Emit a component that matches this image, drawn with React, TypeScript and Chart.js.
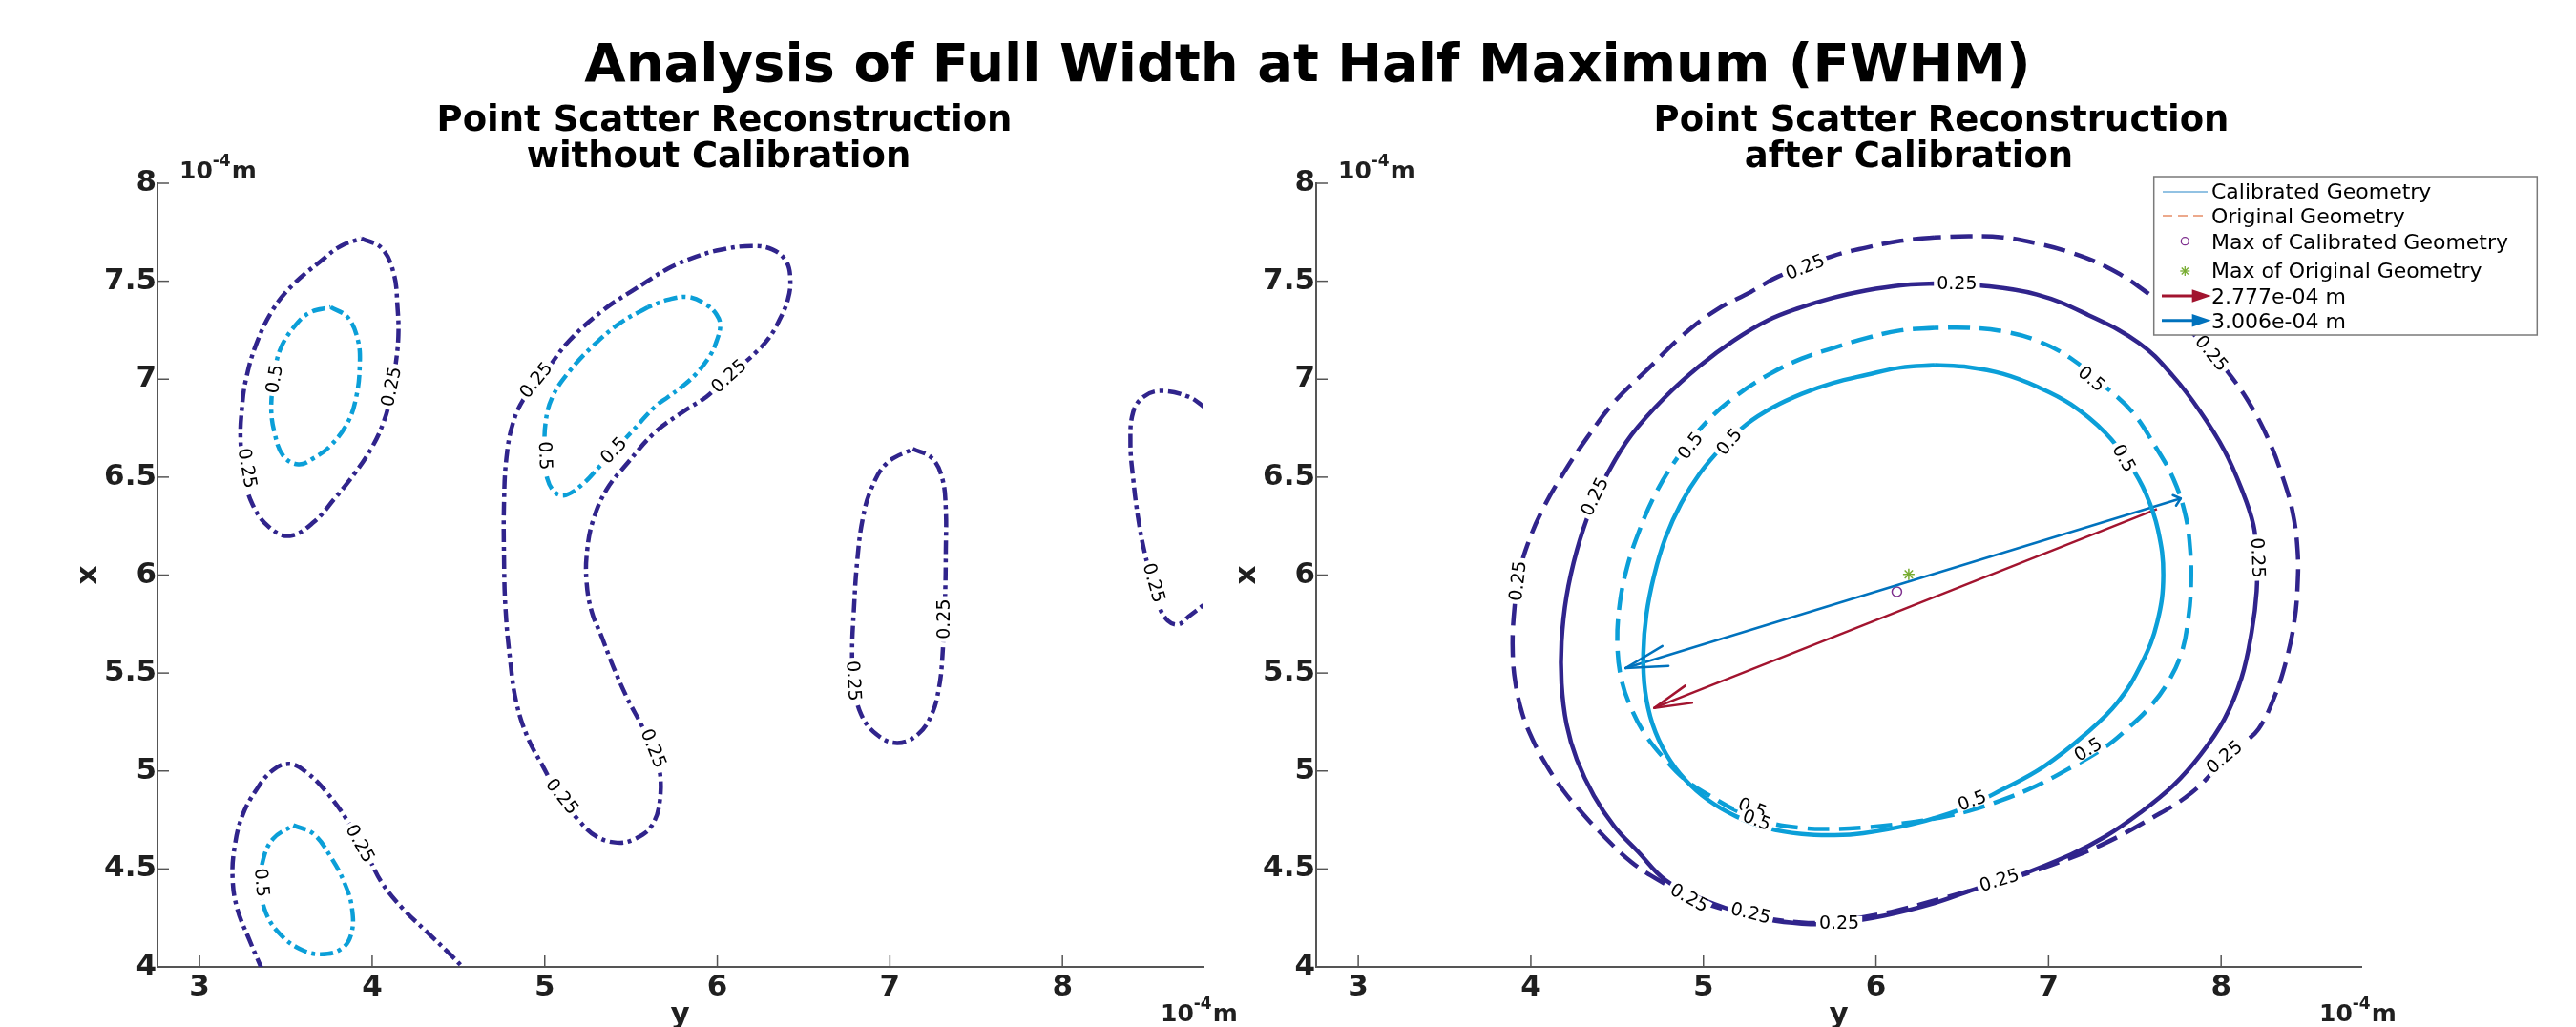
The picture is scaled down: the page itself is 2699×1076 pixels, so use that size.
import React, { useEffect, useRef } from 'react';
import { Chart, registerables } from 'chart.js';

Chart.register(...registerables);

type Pt = [number, number];
type Lbl = [string, number, number, number];

// ---------- axes ----------
const X_MIN = 2.756;
const X_MAX = 8.812;
const Y_MIN = 4;
const Y_MAX = 8;
const X_TICKS = [3, 4, 5, 6, 7, 8];
const X_TICK_LABELS = ['3', '4', '5', '6', '7', '8'];
const Y_TICKS = [4, 4.5, 5, 5.5, 6, 6.5, 7, 7.5, 8];
const Y_TICK_LABELS = ['4', '4.5', '5', '5.5', '6', '6.5', '7', '7.5', '8'];

// ---------- texts ----------
const MAIN_TITLE = 'Analysis of Full Width at Half Maximum (FWHM)';
const LEFT_SUBTITLE = ['Point Scatter Reconstruction', 'without Calibration'];
const RIGHT_SUBTITLE = ['Point Scatter Reconstruction', 'after Calibration'];
const X_AXIS_TITLE = 'y';
const Y_AXIS_TITLE = 'x';
const LEGEND_LABELS = [
  'Calibrated Geometry',
  'Original Geometry',
  'Max of Calibrated Geometry',
  'Max of Original Geometry',
  '2.777e-04 m',
  '3.006e-04 m',
];

// ---------- left panel: without calibration (contour levels 0.25 / 0.5) ----------
const noCalA025: Pt[] = [[3.938,7.719],[4.057,7.667],[4.126,7.536],[4.146,7.380],[4.152,7.223],[4.135,7.067],[4.106,6.910],[4.066,6.780],[3.997,6.649],[3.898,6.518],[3.780,6.388],[3.661,6.270],[3.523,6.200],[3.404,6.244],[3.306,6.362],[3.256,6.518],[3.237,6.701],[3.246,6.858],[3.266,6.988],[3.325,7.171],[3.424,7.354],[3.543,7.484],[3.701,7.602],[3.819,7.680],[3.938,7.719]];
const noCalA05: Pt[] = [[3.760,7.367],[3.859,7.315],[3.918,7.197],[3.928,7.067],[3.908,6.910],[3.859,6.780],[3.760,6.662],[3.661,6.597],[3.572,6.565],[3.484,6.610],[3.434,6.727],[3.415,6.858],[3.434,7.014],[3.464,7.145],[3.543,7.262],[3.641,7.341],[3.760,7.367]];
const noCalB025: Pt[] = [[3.365,3.98],[3.286,4.143],[3.217,4.300],[3.191,4.456],[3.203,4.613],[3.247,4.770],[3.326,4.900],[3.424,5.004],[3.523,5.036],[3.622,4.991],[3.740,4.887],[3.859,4.743],[3.977,4.561],[4.056,4.430],[4.175,4.300],[4.313,4.182],[4.451,4.065],[4.545,3.98]];
const noCalB05: Pt[] = [[3.543,4.723],[3.661,4.678],[3.760,4.561],[3.839,4.430],[3.883,4.300],[3.879,4.169],[3.820,4.091],[3.701,4.065],[3.582,4.091],[3.464,4.169],[3.385,4.274],[3.355,4.404],[3.365,4.535],[3.424,4.652],[3.543,4.723]];
const noCalC025: Pt[] = [[5.538,7.468],[5.341,7.354],[5.143,7.197],[5.005,7.040],[4.886,6.910],[4.817,6.779],[4.778,6.597],[4.764,6.362],[4.764,6.101],[4.772,5.840],[4.798,5.579],[4.837,5.344],[4.906,5.161],[4.985,5.031],[5.084,4.874],[5.202,4.743],[5.301,4.665],[5.420,4.634],[5.519,4.652],[5.617,4.717],[5.667,4.848],[5.661,5.031],[5.617,5.135],[5.558,5.239],[5.479,5.370],[5.400,5.526],[5.331,5.683],[5.272,5.814],[5.242,5.970],[5.246,6.127],[5.282,6.284],[5.361,6.440],[5.479,6.571],[5.637,6.727],[5.816,6.842],[5.937,6.910],[6.017,6.975],[6.118,7.054],[6.218,7.132],[6.299,7.210],[6.359,7.301],[6.409,7.406],[6.423,7.510],[6.399,7.602],[6.319,7.662],[6.198,7.680],[6.017,7.660],[5.877,7.625],[5.716,7.565],[5.538,7.468]];
const noCalC05: Pt[] = [[5.597,7.367],[5.439,7.288],[5.281,7.171],[5.143,7.040],[5.045,6.910],[5.005,6.779],[5.001,6.623],[5.015,6.492],[5.064,6.419],[5.124,6.409],[5.222,6.466],[5.321,6.558],[5.499,6.727],[5.637,6.858],[5.716,6.910],[5.796,6.962],[5.877,7.027],[5.957,7.119],[5.997,7.197],[6.017,7.275],[5.997,7.328],[5.937,7.380],[5.836,7.419],[5.716,7.406],[5.597,7.367]];
const noCalD025: Pt[] = [[7.133,6.644],[7.244,6.597],[7.304,6.492],[7.324,6.336],[7.324,6.127],[7.320,5.892],[7.304,5.579],[7.284,5.422],[7.244,5.292],[7.163,5.187],[7.043,5.143],[6.922,5.187],[6.832,5.292],[6.791,5.448],[6.781,5.605],[6.791,5.814],[6.811,6.075],[6.842,6.284],[6.892,6.440],[6.982,6.571],[7.133,6.644]];
const noCalE025: Pt[] = [[8.822,6.858],[8.731,6.910],[8.571,6.940],[8.470,6.910],[8.410,6.832],[8.394,6.675],[8.410,6.492],[8.440,6.284],[8.480,6.101],[8.530,5.944],[8.560,5.840],[8.611,5.767],[8.671,5.748],[8.731,5.788],[8.822,5.850]];
const noCalLabels: Lbl[] = [
  ['0.25', 4.112, 6.962, -78], ['0.25', 3.276, 6.545, 80], ['0.5', 3.434, 7.001, -81],
  ['0.25', 4.950, 6.995, -51], ['0.5', 5.003, 6.610, 88], ['0.5', 5.400, 6.636, -47],
  ['0.25', 5.630, 5.115, 68], ['0.25', 5.100, 4.870, 51], ['0.25', 3.930, 4.630, 61],
  ['0.5', 3.360, 4.430, 85], ['0.25', 6.068, 7.015, -42], ['0.25', 7.313, 5.775, -90],
  ['0.25', 6.790, 5.460, 87], ['0.25', 8.530, 5.960, 74],
];

// ---------- right panel: after calibration ----------
const calibrated025: Pt[] = [[6.340,7.489],[6.143,7.479],[5.945,7.453],[5.748,7.415],[5.560,7.365],[5.372,7.300],[5.175,7.197],[4.977,7.067],[4.780,6.910],[4.582,6.714],[4.444,6.518],[4.346,6.336],[4.267,6.127],[4.207,5.892],[4.178,5.658],[4.178,5.448],[4.207,5.239],[4.267,5.057],[4.365,4.874],[4.484,4.717],[4.622,4.587],[4.780,4.443],[4.977,4.352],[5.175,4.287],[5.372,4.242],[5.570,4.221],[5.748,4.221],[6.044,4.261],[6.340,4.326],[6.597,4.404],[6.814,4.462],[7.130,4.574],[7.328,4.665],[7.525,4.783],[7.723,4.926],[7.881,5.083],[8.019,5.265],[8.118,5.475],[8.177,5.710],[8.206,5.918],[8.206,6.101],[8.187,6.257],[8.118,6.440],[8.019,6.636],[7.881,6.832],[7.723,7.014],[7.525,7.184],[7.229,7.328],[6.933,7.432],[6.597,7.479],[6.340,7.489]];
const original025: Pt[] = [[6.340,7.724],[6.143,7.706],[5.945,7.672],[5.748,7.628],[5.432,7.523],[5.274,7.445],[5.076,7.354],[4.879,7.223],[4.681,7.054],[4.484,6.884],[4.326,6.701],[4.188,6.518],[4.069,6.336],[3.980,6.153],[3.931,5.997],[3.901,5.788],[3.895,5.606],[3.911,5.448],[3.951,5.292],[4.010,5.161],[4.089,5.031],[4.188,4.900],[4.287,4.796],[4.425,4.665],[4.583,4.535],[4.740,4.443],[4.977,4.336],[5.274,4.262],[5.570,4.227],[5.748,4.230],[5.926,4.254],[6.116,4.287],[6.401,4.354],[6.735,4.438],[7.020,4.521],[7.305,4.622],[7.591,4.756],[7.829,4.889],[8.019,5.056],[8.120,5.135],[8.216,5.213],[8.305,5.370],[8.374,5.553],[8.424,5.761],[8.443,5.944],[8.443,6.127],[8.414,6.323],[8.355,6.505],[8.276,6.688],[8.177,6.858],[8.058,7.014],[7.920,7.158],[7.723,7.328],[7.525,7.471],[7.328,7.576],[7.130,7.646],[6.933,7.693],[6.735,7.724],[6.538,7.730],[6.340,7.724]];
const calibrated05: Pt[] = [[6.340,7.072],[6.143,7.059],[5.945,7.022],[5.748,6.980],[5.570,6.925],[5.400,6.855],[5.250,6.770],[5.110,6.655],[4.980,6.520],[4.870,6.365],[4.780,6.190],[4.715,6.000],[4.670,5.800],[4.652,5.600],[4.662,5.410],[4.705,5.240],[4.785,5.085],[4.895,4.955],[5.030,4.850],[5.190,4.768],[5.372,4.708],[5.570,4.678],[5.760,4.672],[5.926,4.682],[6.211,4.729],[6.497,4.806],[6.734,4.906],[6.973,5.023],[7.210,5.185],[7.400,5.350],[7.540,5.550],[7.630,5.760],[7.665,6.000],[7.634,6.231],[7.565,6.414],[7.466,6.571],[7.328,6.727],[7.130,6.871],[6.933,6.962],[6.735,7.027],[6.538,7.061],[6.340,7.072]];
const original05: Pt[] = [[6.340,7.262],[6.143,7.249],[5.945,7.210],[5.748,7.158],[5.570,7.105],[5.372,7.020],[5.175,6.905],[5.000,6.765],[4.850,6.600],[4.725,6.420],[4.630,6.230],[4.555,6.030],[4.512,5.830],[4.502,5.632],[4.527,5.460],[4.583,5.318],[4.662,5.187],[4.780,5.057],[4.899,4.952],[5.037,4.874],[5.195,4.796],[5.372,4.738],[5.570,4.709],[5.748,4.704],[5.945,4.712],[6.143,4.731],[6.340,4.757],[6.538,4.796],[6.735,4.853],[6.933,4.926],[7.130,5.018],[7.328,5.122],[7.450,5.210],[7.580,5.320],[7.690,5.450],[7.772,5.606],[7.811,5.788],[7.825,5.944],[7.821,6.127],[7.792,6.310],[7.723,6.492],[7.624,6.649],[7.486,6.832],[7.328,6.962],[7.130,7.106],[6.933,7.197],[6.735,7.244],[6.538,7.262],[6.340,7.262]];
const calLabels: Lbl[] = [
  ['0.25', 5.590, 7.572, -22], ['0.25', 4.370, 6.400, -64], ['0.25', 3.925, 5.970, -83],
  ['0.5', 4.925, 6.660, -53], ['0.5', 5.150, 6.680, -50], ['0.5', 5.284, 4.809, 21],
  ['0.5', 5.309, 4.749, 21], ['0.25', 4.918, 4.352, 29], ['0.25', 5.274, 4.274, 14],
  ['0.25', 5.787, 4.225, 0], ['0.25', 6.469, 7.489, 0], ['0.25', 7.944, 7.132, 50],
  ['0.5', 7.249, 7.001, 40], ['0.5', 7.436, 6.597, 61], ['0.25', 8.212, 6.088, 88],
  ['0.25', 8.019, 5.070, -40], ['0.5', 7.229, 5.109, -31], ['0.5', 6.557, 4.848, -20],
  ['0.25', 6.715, 4.442, -17],
];
// FWHM arrows: [tail, tip]
const arrowOriginal: Pt[] = [[7.628, 6.337], [4.715, 5.322]];
const arrowCalibrated: Pt[] = [[7.766, 6.391], [4.549, 5.525]];
const maxCalibrated: Pt[] = [[6.121, 5.915]];
const maxOriginal: Pt[] = [[6.190, 6.004]];

// ---------- styles ----------
const FONT = '"DejaVu Sans", "Liberation Sans", sans-serif';
const PURPLE = '#30248c';
const CYAN = '#0b9fd8';
const RED = '#a2142f';
const BLUE = '#0072bd';
const AXIS = '#555555';
const TEXT = '#1f1f1f';
const CANVAS_H = 1100;
const AREA_TOP = 192;
const AREA_BOTTOM = 1013;
const AREA_LEFT = 165;
const AREA_RIGHT = 1260;
const DASH_DOT = [14, 5, 4, 5];
const DASH = [23, 10];

const toXY = (pts: Pt[]) => pts.map(([x, y]) => ({ x, y }));

function contour(pts: Pt[], color: string, dash: number[]) {
  return {
    data: toXY(pts),
    showLine: true,
    borderColor: color,
    backgroundColor: color,
    borderWidth: 4.5,
    borderDash: dash,
    borderCapStyle: 'butt',
    borderJoinStyle: 'round',
    pointRadius: 0,
    tension: 0.4,
    fill: false,
  };
}

function arrowShaft(pts: Pt[], color: string) {
  return {
    data: toXY(pts),
    showLine: true,
    borderColor: color,
    borderWidth: 2.5,
    pointRadius: 0,
    tension: 0,
    fill: false,
  };
}

function drawHead(ctx: CanvasRenderingContext2D, xs: any, ys: any, seg: Pt[], color: string, len: number, deg: number) {
  const [a, b] = seg;
  const tx = xs.getPixelForValue(b[0]);
  const ty = ys.getPixelForValue(b[1]);
  const sx = xs.getPixelForValue(a[0]);
  const sy = ys.getPixelForValue(a[1]);
  const ang = Math.atan2(sy - ty, sx - tx);
  ctx.strokeStyle = color;
  ctx.lineWidth = 2.5;
  ctx.lineCap = 'round';
  for (const s of [-1, 1]) {
    const a2 = ang + (s * deg * Math.PI) / 180;
    ctx.beginPath();
    ctx.moveTo(tx, ty);
    ctx.lineTo(tx + len * Math.cos(a2), ty + len * Math.sin(a2));
    ctx.stroke();
  }
}

function drawExp(ctx: CanvasRenderingContext2D, x: number, base: number) {
  ctx.fillStyle = TEXT;
  ctx.textAlign = 'left';
  ctx.textBaseline = 'alphabetic';
  ctx.font = `bold 25px ${FONT}`;
  ctx.fillText('10', x, base);
  const w1 = ctx.measureText('10').width;
  ctx.font = `bold 17px ${FONT}`;
  ctx.fillText('-4', x + w1, base - 13);
  const w2 = ctx.measureText('-4').width;
  ctx.font = `bold 25px ${FONT}`;
  ctx.fillText('m', x + w1 + w2 + 1, base);
}

function drawStar(ctx: CanvasRenderingContext2D, x: number, y: number, r: number, color: string) {
  ctx.strokeStyle = color;
  ctx.lineWidth = 1.3;
  for (let k = 0; k < 4; k++) {
    const a = (k * Math.PI) / 4;
    ctx.beginPath();
    ctx.moveTo(x - r * Math.cos(a), y - r * Math.sin(a));
    ctx.lineTo(x + r * Math.cos(a), y + r * Math.sin(a));
    ctx.stroke();
  }
}

function drawLegend(ctx: CanvasRenderingContext2D) {
  const L = 1042.7, T = 185, W = 401.6, H = 166;
  ctx.save();
  ctx.fillStyle = '#ffffff';
  ctx.fillRect(L, T, W, H);
  ctx.strokeStyle = '#7a7a7a';
  ctx.lineWidth = 1.5;
  ctx.strokeRect(L, T, W, H);
  const x0 = 1052, x1 = 1099, mx = 1075.3;
  ctx.strokeStyle = 'rgba(0,114,189,0.85)';
  ctx.lineWidth = 1.2;
  ctx.beginPath(); ctx.moveTo(x0, 201); ctx.lineTo(x1, 201); ctx.stroke();
  ctx.strokeStyle = 'rgba(217,83,25,0.5)';
  ctx.lineWidth = 2;
  ctx.setLineDash([10, 6]);
  ctx.beginPath(); ctx.moveTo(x0, 226); ctx.lineTo(x1, 226); ctx.stroke();
  ctx.setLineDash([]);
  ctx.strokeStyle = '#7e2f8e';
  ctx.lineWidth = 1.3;
  ctx.beginPath(); ctx.arc(mx, 252.7, 4, 0, Math.PI * 2); ctx.stroke();
  drawStar(ctx, mx, 284, 5, '#77ac30');
  const arrows: [number, string][] = [[310, RED], [335.7, BLUE]];
  for (const [y, c] of arrows) {
    ctx.strokeStyle = c;
    ctx.fillStyle = c;
    ctx.lineWidth = 3;
    ctx.beginPath(); ctx.moveTo(1051, y); ctx.lineTo(1090, y); ctx.stroke();
    ctx.beginPath();
    ctx.moveTo(1082.7, y - 6.7);
    ctx.lineTo(1102.7, y);
    ctx.lineTo(1082.7, y + 6.7);
    ctx.closePath();
    ctx.fill();
  }
  ctx.fillStyle = '#000';
  ctx.font = `22px ${FONT}`;
  ctx.textAlign = 'left';
  ctx.textBaseline = 'alphabetic';
  const bases = [207.5, 233.5, 261, 291, 317.5, 343.5];
  LEGEND_LABELS.forEach((t, i) => ctx.fillText(t, 1103, bases[i]));
  ctx.restore();
}

function decorPlugin(side: 'left' | 'right') {
  const labels = side === 'left' ? noCalLabels : calLabels;
  const sub = side === 'left' ? LEFT_SUBTITLE : RIGHT_SUBTITLE;
  const subX = side === 'left' ? [759, 753] : [820, 786];
  return {
    id: 'decor_' + side,
    afterDatasetsDraw(chart: any) {
      const ctx: CanvasRenderingContext2D = chart.ctx;
      const xs = chart.scales.x;
      const ys = chart.scales.y;
      const ca = chart.chartArea;
      ctx.save();
      ctx.strokeStyle = AXIS;
      ctx.lineWidth = 1.5;
      for (const v of X_TICKS) {
        const p = xs.getPixelForValue(v);
        ctx.beginPath(); ctx.moveTo(p, ca.bottom); ctx.lineTo(p, ca.bottom - 12); ctx.stroke();
      }
      for (const v of Y_TICKS) {
        const p = ys.getPixelForValue(v);
        ctx.beginPath(); ctx.moveTo(ca.left, p); ctx.lineTo(ca.left + 12, p); ctx.stroke();
      }
      if (side === 'right') {
        drawHead(ctx, xs, ys, arrowCalibrated, BLUE, 45, 14);
        drawHead(ctx, xs, ys, arrowOriginal, RED, 40, 14);
        drawHead(ctx, xs, ys, [arrowCalibrated[1], arrowCalibrated[0]], BLUE, 9, 40);
      }
      ctx.font = `19px ${FONT}`;
      ctx.textAlign = 'center';
      ctx.textBaseline = 'middle';
      for (const [t, x, y, a] of labels) {
        const px = xs.getPixelForValue(x);
        const py = ys.getPixelForValue(y);
        ctx.save();
        ctx.translate(px, py);
        ctx.rotate((a * Math.PI) / 180);
        const w = ctx.measureText(t).width;
        ctx.fillStyle = '#ffffff';
        ctx.fillRect(-w / 2 - 3, -7, w + 6, 14);
        ctx.fillStyle = '#000000';
        ctx.fillText(t, 0, 1);
        ctx.restore();
      }
      ctx.restore();
    },
    afterDraw(chart: any) {
      const ctx: CanvasRenderingContext2D = chart.ctx;
      ctx.save();
      ctx.fillStyle = '#000';
      ctx.font = `bold 37px ${FONT}`;
      ctx.textAlign = 'center';
      ctx.textBaseline = 'alphabetic';
      ctx.fillText(sub[0], subX[0], 137);
      ctx.fillText(sub[1], subX[1], 175);
      drawExp(ctx, 188, 187);
      drawExp(ctx, 1216, 1070);
      if (side === 'right') drawLegend(ctx);
      ctx.restore();
    },
  };
}

function buildConfig(side: 'left' | 'right', width: number): any {
  const datasets: any[] = side === 'left'
    ? [
        contour(noCalA025, PURPLE, DASH_DOT),
        contour(noCalA05, CYAN, DASH_DOT),
        contour(noCalB025, PURPLE, DASH_DOT),
        contour(noCalB05, CYAN, DASH_DOT),
        contour(noCalC025, PURPLE, DASH_DOT),
        contour(noCalC05, CYAN, DASH_DOT),
        contour(noCalD025, PURPLE, DASH_DOT),
        contour(noCalE025, PURPLE, DASH_DOT),
      ]
    : [
        contour(original025, PURPLE, DASH),
        contour(original05, CYAN, DASH),
        contour(calibrated025, PURPLE, []),
        contour(calibrated05, CYAN, []),
        arrowShaft(arrowOriginal, RED),
        arrowShaft(arrowCalibrated, BLUE),
        {
          data: toXY(maxCalibrated),
          pointStyle: 'circle',
          pointRadius: 5,
          borderColor: '#7e2f8e',
          backgroundColor: 'rgba(0,0,0,0)',
          borderWidth: 1.5,
        },
        {
          data: toXY(maxOriginal),
          pointStyle: 'star',
          pointRadius: 6,
          borderColor: '#77ac30',
          backgroundColor: '#77ac30',
          borderWidth: 1.5,
        },
      ];
  const tickFont = { family: FONT, size: 31, weight: 'bold' as const };
  return {
    type: 'scatter',
    data: { datasets },
    options: {
      responsive: false,
      animation: false,
      events: [],
      layout: { padding: { top: AREA_TOP, right: width - AREA_RIGHT, bottom: 0, left: 0 } },
      plugins: { legend: { display: false }, tooltip: { enabled: false }, title: { display: false } },
      scales: {
        x: {
          type: 'linear',
          position: 'bottom',
          min: X_MIN,
          max: X_MAX,
          bounds: 'data',
          afterBuildTicks: (s: any) => { s.ticks = X_TICKS.map((v) => ({ value: v })); },
          afterFit: (s: any) => { s.height = CANVAS_H - AREA_BOTTOM; },
          grid: { display: false, drawTicks: false },
          border: { display: true, color: AXIS, width: 2 },
          ticks: {
            font: tickFont,
            color: TEXT,
            padding: 3,
            maxRotation: 0,
            minRotation: 0,
            autoSkip: false,
            callback: (_v: any, i: number) => X_TICK_LABELS[i],
          },
          title: { display: true, text: X_AXIS_TITLE, font: tickFont, color: TEXT, padding: { top: 0, bottom: 17 } },
        },
        y: {
          type: 'linear',
          position: 'left',
          min: Y_MIN,
          max: Y_MAX,
          bounds: 'data',
          afterBuildTicks: (s: any) => { s.ticks = Y_TICKS.map((v) => ({ value: v })); },
          afterFit: (s: any) => { s.width = AREA_LEFT; },
          grid: { display: false, drawTicks: false },
          border: { display: true, color: AXIS, width: 2 },
          ticks: {
            font: tickFont,
            color: TEXT,
            padding: 1,
            autoSkip: false,
            callback: (_v: any, i: number) => Y_TICK_LABELS[i],
          },
          title: { display: true, text: Y_AXIS_TITLE, font: tickFont, color: TEXT, padding: { top: 74, bottom: 0 } },
        },
      },
    },
    plugins: [decorPlugin(side)],
  };
}

function Panel({ side, left, width }: { side: 'left' | 'right'; left: number; width: number }) {
  const ref = useRef<HTMLCanvasElement | null>(null);
  useEffect(() => {
    if (!ref.current) return;
    const chart = new Chart(ref.current, buildConfig(side, width));
    return () => chart.destroy();
  }, [side, width]);
  return (
    <canvas
      ref={ref}
      width={width}
      height={CANVAS_H}
      style={{ position: 'absolute', left, top: 0, width, height: CANVAS_H }}
    />
  );
}

export default function App() {
  return (
    <div
      style={{
        position: 'absolute',
        left: 0,
        top: 0,
        width: 2699,
        height: 1076,
        overflow: 'hidden',
        background: '#ffffff',
      }}
    >
      <div
        style={{
          position: 'absolute',
          left: 370,
          top: 38,
          width: 2000,
          textAlign: 'center',
          fontFamily: FONT,
          fontWeight: 'bold',
          fontSize: 56,
          lineHeight: '56px',
          color: '#000',
          whiteSpace: 'nowrap',
        }}
      >
        {MAIN_TITLE}
      </div>
      <Panel side="left" left={0} width={1350} />
      <Panel side="right" left={1214} width={1485} />
    </div>
  );
}
